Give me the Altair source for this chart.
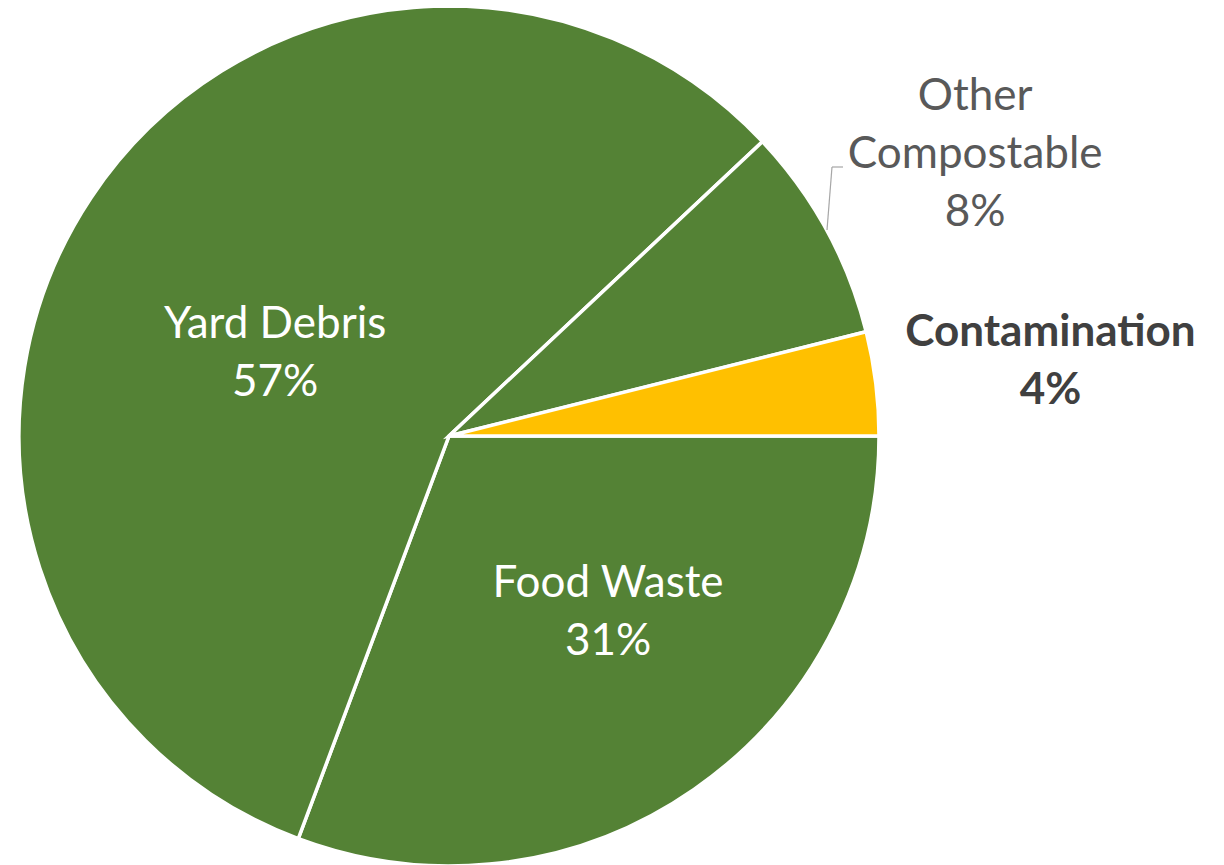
import math
import altair as alt
import pandas as pd

categories = ["Food Waste", "Yard Debris", "Other Compostable", "Contamination"]
values = [30.7, 57.3, 8.1, 3.9]
labels = ["Food Waste\n31%", "Yard Debris\n57%", "Other\nCompostable\n8%", "Contamination\n4%"]
slice_order = [0, 1, 2, 3]
colors = ["#548235", "#548235", "#548235", "#FFC000"]

df = pd.DataFrame({
    "category": categories,
    "value": values,
    "label": labels,
    "ord": slice_order,
})
total = sum(values)

CX, CY = 441, 428
FONT = "Lato"
LH = 58

theta_scale = alt.Scale(domain=[0, total], range=[math.pi / 2, math.pi / 2 + 2 * math.pi])

base = alt.Chart(df).transform_stack(
    stack="value", groupby=[], as_=["v0", "v1"], sort=[alt.SortField("ord", order="ascending")]
).transform_calculate(mid="(datum.v0 + datum.v1) / 2")

pie = base.mark_arc(radius=430, stroke="white", strokeWidth=3.5).encode(
    theta=alt.Theta("v0:Q", scale=theta_scale),
    theta2="v1:Q",
    color=alt.Color("category:N", scale=alt.Scale(domain=categories, range=colors), legend=None),
    x=alt.value(CX),
    y=alt.value(CY),
)


def label_layer(cat, nlines, radius, color, weight, dx, dy):
    return base.transform_filter(alt.datum.category == cat).mark_text(
        radius=radius, font=FONT, fontSize=44, fontWeight=weight, color=color,
        lineBreak="\n", lineHeight=LH, align="center", baseline="middle",
        dx=dx, dy=dy - (nlines - 1) * LH / 2,
    ).encode(
        theta=alt.Theta("mid:Q", scale=theta_scale),
        text="label:N",
        x=alt.value(CX),
        y=alt.value(CY),
    )


t_food = label_layer("Food Waste", 2, 237, "white", "normal", 24, -18)
t_yard = label_layer("Yard Debris", 2, 192, "white", "normal", -14, 24)
t_other = label_layer("Other Compostable", 3, 596, "#595959", "normal", 3, 4)
t_cont = label_layer("Contamination", 2, 606, "#404040", "bold", 0, 0)

leader1 = alt.Chart(df).transform_filter(alt.datum.category == "Other Compostable").mark_rule(
    color="#a6a6a6", strokeWidth=1.2
).encode(x=alt.value(819), y=alt.value(222), x2=alt.value(824), y2=alt.value(159))
leader2 = alt.Chart(df).transform_filter(alt.datum.category == "Other Compostable").mark_rule(
    color="#a6a6a6", strokeWidth=1.2
).encode(x=alt.value(824), y=alt.value(159), x2=alt.value(835), y2=alt.value(159))

chart = alt.layer(pie, leader1, leader2, t_food, t_yard, t_other, t_cont).properties(
    width=1208, height=857, autosize="none", padding=0
).configure_view(stroke=None)

chart.save("out.html", embed_options={"renderer": "svg", "actions": False})
